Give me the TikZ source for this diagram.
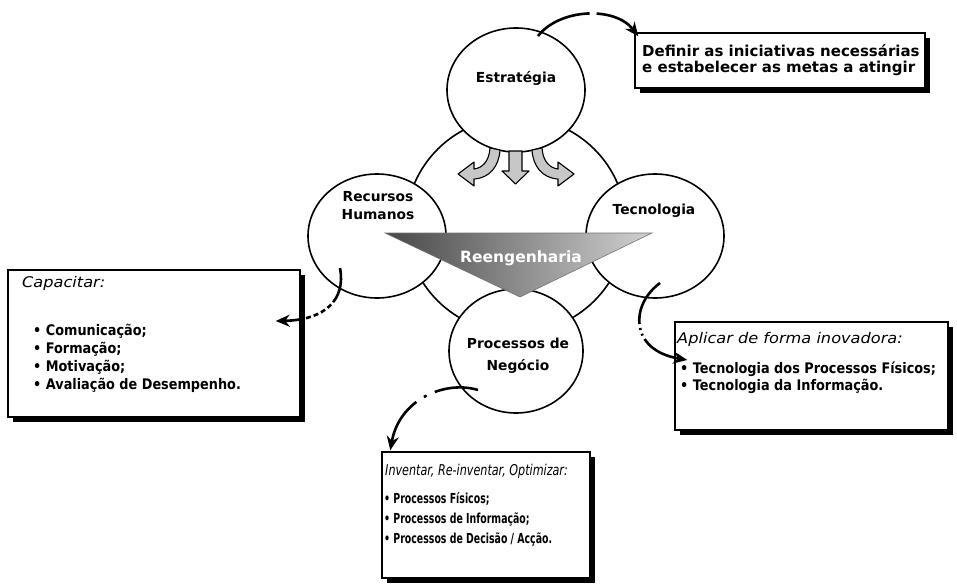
\documentclass[tikz,border=0pt]{standalone}
\usepackage{fontspec}
\setmainfont{DejaVu Sans}
\newfontfamily\headfont[FakeStretch=1.1]{DejaVu Sans}
\newfontfamily\itemfont[FakeStretch=0.88]{DejaVu Sans}
\newfontfamily\tightfont[FakeStretch=0.75]{DejaVu Sans}
\newfontfamily\narrowfont[FakeStretch=0.68]{DejaVu Sans}
\usetikzlibrary{shapes.geometric,shadows,arrows.meta,calc}
\newcommand\setfs[2]{\fontsize{#1}{#2}\selectfont}
\begin{document}
\begin{tikzpicture}[x=1pt,y=-1pt,
  hub/.style={ellipse,draw,line width=1.6pt,inner sep=0pt,minimum width=220pt,minimum height=216pt},
  ring/.style={ellipse,draw,line width=1.6pt,fill=white,inner sep=0pt,minimum width=138pt,minimum height=124pt},
  lbl/.style={font=\bfseries\setfs{13.8}{18},align=center,inner sep=0pt},
  card/.style={rectangle,draw,line width=1.4pt,fill=white,inner sep=0pt,
     drop shadow={shadow xshift=5pt,shadow yshift=-5pt,fill=black,opacity=1}},
  txt/.style={anchor=base west,inner sep=0pt},
  headtxt/.style={txt,font=\headfont\itshape\setfs{14.7}{18}},
  itemtxt/.style={txt,font=\itemfont\bfseries\setfs{14.6}{18}},
  tighthead/.style={txt,font=\tightfont\itshape\setfs{14.9}{18}},
  tightitem/.style={txt,font=\narrowfont\bfseries\setfs{13.8}{18}},
  notetxt/.style={txt,font=\bfseries\setfs{15}{16}},
  blockarrow/.style={fill=black!22,draw=black,line width=1.1pt,line join=round},
  link/.style={line width=2.6pt,-{Stealth[length=14pt,width=12pt]}},
]
\path[use as bounding box] (0,0) rectangle (957,583);

% central circle and the four surrounding circles
\node[hub] (hub) at (516,225) {};
\node[ring] (estr) at (516,90) {};
\node[ring] (rh) at (377,236) {};
\node[ring] (tec) at (655,236) {};
\node[ring,minimum width=134pt] (proc) at (516,351) {};

\node[lbl] (estrl) at (516,78) {Estratégia};
\node[lbl] (rhl) at (378,206) {Recursos\\Humanos};
\node[lbl] (tecl) at (654,211) {Tecnologia};
\node[lbl,font=\bfseries\setfs{13.8}{22}] (procl) at (518,356) {Processos de\\Negócio};

% shaded wedge across the middle
\shade[left color=black!72,middle color=black!45,right color=black!18,draw=black!55,line width=0.6pt]
  (385,233) -- (652,233) -- (520,297) -- cycle;
\node[font=\bfseries\setfs{15.5}{18},text=white,inner sep=0pt] (reeng) at (521,258) {Reengenharia};

% three block arrows under the top circle
\filldraw[blockarrow] (509,151) -- (522,151) -- (522,171) -- (529,171) -- (515.5,184) -- (502,171) -- (509,171) -- cycle;
\filldraw[blockarrow] (490,148) .. controls (489,162) and (482,168) .. (474,169) -- (474,162) -- (458,174)
  -- (474,186) -- (474,179) .. controls (490,178) and (499,166) .. (500,150) -- cycle;
\filldraw[blockarrow] (542,148) .. controls (543,162) and (550,168) .. (558,169) -- (558,162) -- (574,174)
  -- (558,186) -- (558,179) .. controls (542,178) and (533,166) .. (532,150) -- cycle;

% note boxes
\node[card,minimum width=290pt,minimum height=55pt] (defb) at (780,60.5) {};
\node[card,minimum width=292pt,minimum height=147pt] (capb) at (154,343.5) {};
\node[card,minimum width=273pt,minimum height=108pt] (aplb) at (811.5,376) {};
\node[card,minimum width=208pt,minimum height=126pt] (invb) at (486,515) {};

\node[notetxt] (def1) at (642,57) {Definir as iniciativas necessárias};
\node[notetxt] (def2) at (642,73) {e estabelecer as metas a atingir};

\node[headtxt] (cap0) at (22,287) {Capacitar:};
\node[itemtxt] (cap1) at (33,335) {• Comunicação;};
\node[itemtxt] (cap2) at (33,353) {• Formação;};
\node[itemtxt] (cap3) at (33,371) {• Motivação;};
\node[itemtxt] (cap4) at (33,389) {• Avaliação de Desempenho.};

\node[headtxt] (apl0) at (677,343) {Aplicar de forma inovadora:};
\node[itemtxt] (apl1) at (680,373) {• Tecnologia dos Processos Físicos;};
\node[itemtxt] (apl2) at (680,390) {• Tecnologia da Informação.};

\node[tighthead] (inv0) at (385,475) {Inventar, Re-inventar, Optimizar:};
\node[tightitem] (inv1) at (384,503) {• Processos Físicos;};
\node[tightitem] (inv2) at (384,523) {• Processos de Informação;};
\node[tightitem] (inv3) at (384,543) {• Processos de Decisão / Acção.};

% curved connectors from the circles to their notes
\coordinate (estr-out) at ($(estr.center)+(22,-54)$);
\coordinate (defb-in) at ($(defb.north west)+(4,4)$);
\coordinate (rh-out) at ($(rh.center)+(-37,32)$);
\coordinate (capb-in) at ($(capb.east)+(-25,-22.5)$);
\coordinate (tec-out) at ($(tec.center)+(5,47)$);
\coordinate (aplb-in) at ($(aplb.west)+(13,-16)$);
\coordinate (proc-out) at ($(proc.center)+(-38,39)$);
\coordinate (invb-in) at ($(invb.north west)+(9,-1)$);

\draw[link,dash pattern=on 58pt off 7pt on 200pt]
  (estr-out) .. controls +(22,-28) and +(-23,-30) .. (defb-in);
\draw[link,dash pattern=on 36pt off 3pt on 5pt off 3pt on 5pt off 3pt on 5pt off 3pt on 5pt off 3pt on 80pt]
  (rh-out) .. controls +(6,32) and +(49,-1) .. (capb-in);
\draw[link,dash pattern=on 48pt off 4pt on 2pt off 4pt on 2pt off 4pt on 120pt]
  (tec-out) .. controls +(-30,22) and +(-58,-10) .. (aplb-in);
\draw[link,dash pattern=on 44pt off 9pt on 3pt off 9pt on 120pt]
  (proc-out) .. controls +(-33,-10) and +(9,-51) .. (invb-in);
\end{tikzpicture}
\end{document}
